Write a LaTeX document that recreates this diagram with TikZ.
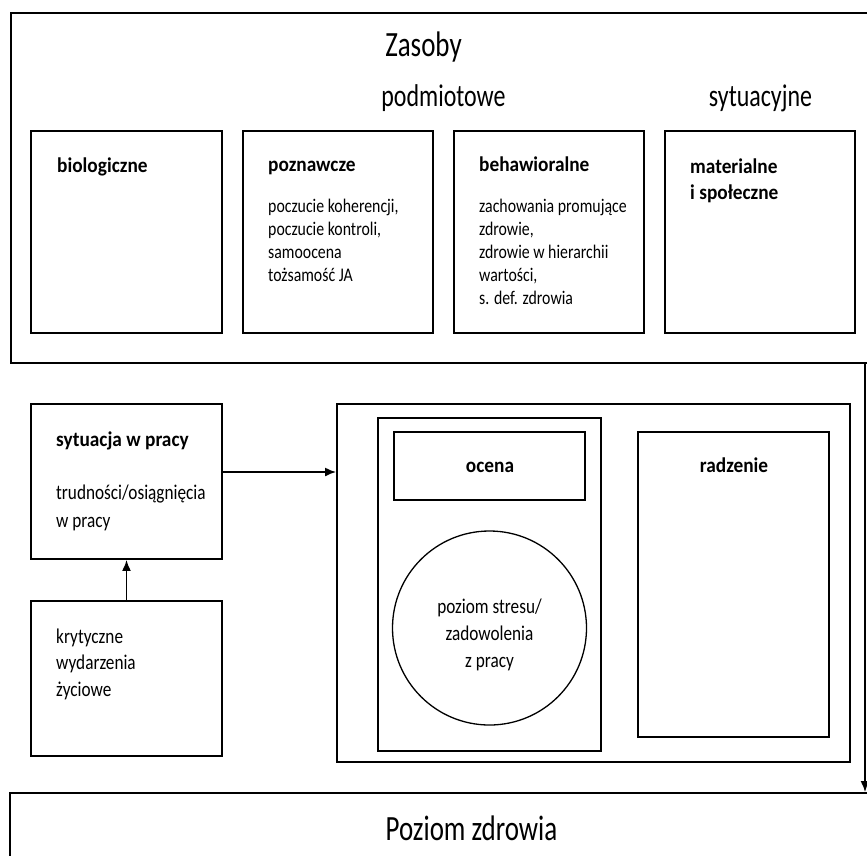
\documentclass[tikz,border=0pt]{standalone}
\usepackage{fontspec}
\setmainfont{Carlito}[FakeStretch=0.82]
\newfontfamily\grubafont{Carlito}[FakeStretch=0.92]
\newfontfamily\glownyfont{Carlito}[FakeStretch=0.76]
\usepackage{tikz}
\usetikzlibrary{arrows.meta}
\newcommand{\pudlo}[5]{ \node[ramka, minimum width={#4-#2}, minimum height={#5-#3}] (#1) at ({(#2+#4)/2},{(#3+#5)/2}) {};}
\newcommand{\napis}[5]{ \node[napis, #1] (#2) at ( #3 , #4 ) {#5};}
\tikzset{
  ramka/.style={draw, line width=1.8pt, inner sep=0pt},
  kolo/.style={draw, circle, line width=1.3pt, inner sep=0pt, minimum size=194pt},
  napis/.style={inner sep=0pt, anchor=base west},
  naglowek/.style={anchor=base, font=\glownyfont\fontsize{35.5}{42}\selectfont},
  podtytul/.style={anchor=base, font=\glownyfont\fontsize{31.5}{38}\selectfont},
  tytul/.style={font=\grubafont\bfseries\fontsize{21}{25}\selectfont},
  opis/.style={font=\fontsize{19.3}{23}\selectfont},
  opisd/.style={font=\fontsize{21}{27}\selectfont},
  strzalka/.style={line width=1.8pt, -{Latex[length=11pt,width=9pt]}}
}

\begin{document}
\begin{tikzpicture}[x=1pt,y=-1pt]
        \useasboundingbox (0,0) rectangle (867,855);
        \clip (0,0) rectangle (867,855);
        % zasoby
        \pudlo{zasoby}{11}{13}{885}{363}
        \napis{naglowek}{t_zasoby}{423.5}{56}{Zasoby}
        \napis{podtytul}{t_podm}{443.5}{106}{podmiotowe}
        \napis{podtytul}{t_sytu}{760.5}{106}{sytuacyjne}
        % row1
        \pudlo{bio}{31}{131}{222}{333}
        \pudlo{pozn}{243}{131}{433}{333}
        \pudlo{beh}{454}{131}{644}{333}
        \pudlo{mat}{665}{131}{855}{333}
        % labels row1
        \napis{tytul}{t_bio}{57}{172}{biologiczne}
        \napis{tytul}{t_pozn}{268}{171}{poznawcze}
        \napis{tytul}{t_beh}{479}{171}{behawioralne}
        \napis{tytul}{t_mat1}{690}{173}{materialne}
        \napis{tytul}{t_mat2}{690}{199}{i społeczne}
        % poznawcze
        \napis{opis}{p_1}{268}{212}{poczucie koherencji,}
        \napis{opis}{p_2}{268}{235}{poczucie kontroli,}
        \napis{opis}{p_3}{268}{258}{samoocena}
        \napis{opis}{p_4}{268}{281}{tożsamość JA}
        % behawioralne
        \napis{opis}{b_1}{479}{212}{zachowania promujące}
        \napis{opis}{b_2}{479}{235}{zdrowie,}
        \napis{opis}{b_3}{479}{258}{zdrowie w hierarchii}
        \napis{opis}{b_4}{479}{281}{wartości,}
        \napis{opis}{b_5}{479}{304}{s. def. zdrowia}

        % row2
        \pudlo{syt}{31}{404}{222}{559}
        \pudlo{kryt}{31}{601}{222}{756}
        \pudlo{proces}{337}{404}{850}{762}
        \pudlo{lewa}{378}{418}{601}{751}
        \pudlo{ocena}{394}{432}{585}{500}
        \pudlo{radz}{638}{432}{829}{737}
        \node[kolo] (stres) at (489.5,628) {};
        % labels row2
        \napis{tytul}{t_syt}{56}{446}{sytuacja w pracy}
        \napis{opisd}{s_1}{56}{499}{trudności/osiągnięcia}
        \napis{opisd}{s_2}{56}{527}{w pracy}
        \napis{opisd}{k_1}{56}{643}{krytyczne}
        \napis{opisd}{k_2}{56}{669}{wydarzenia}
        \napis{opisd}{k_3}{56}{696}{życiowe}
        \napis{tytul, anchor=base}{t_ocena}{490}{472}{ocena}
        \napis{tytul, anchor=base}{t_radz}{734}{472}{radzenie}
        \napis{opisd, anchor=base}{z_1}{489.5}{613}{poziom stresu/}
        \napis{opisd, anchor=base}{z_2}{489.5}{640}{zadowolenia}
        \napis{opisd, anchor=base}{z_3}{489.5}{667}{z pracy}

        % zdrowie
        \pudlo{zdrowie}{10}{793}{885}{885}
        \napis{naglowek}{t_zdrowie}{471.5}{840}{Poziom zdrowia}

        % arrows
        \draw[strzalka] (kryt) -- (syt);
        \draw[strzalka] ([yshift=9.5pt]syt.east) -- ([yshift=9.5pt]syt.east -| proces.west);
        \coordinate (wyjscie) at (865,363);
        \draw[strzalka] (wyjscie) -- (wyjscie |- zdrowie.north);
\end{tikzpicture}
\end{document}
